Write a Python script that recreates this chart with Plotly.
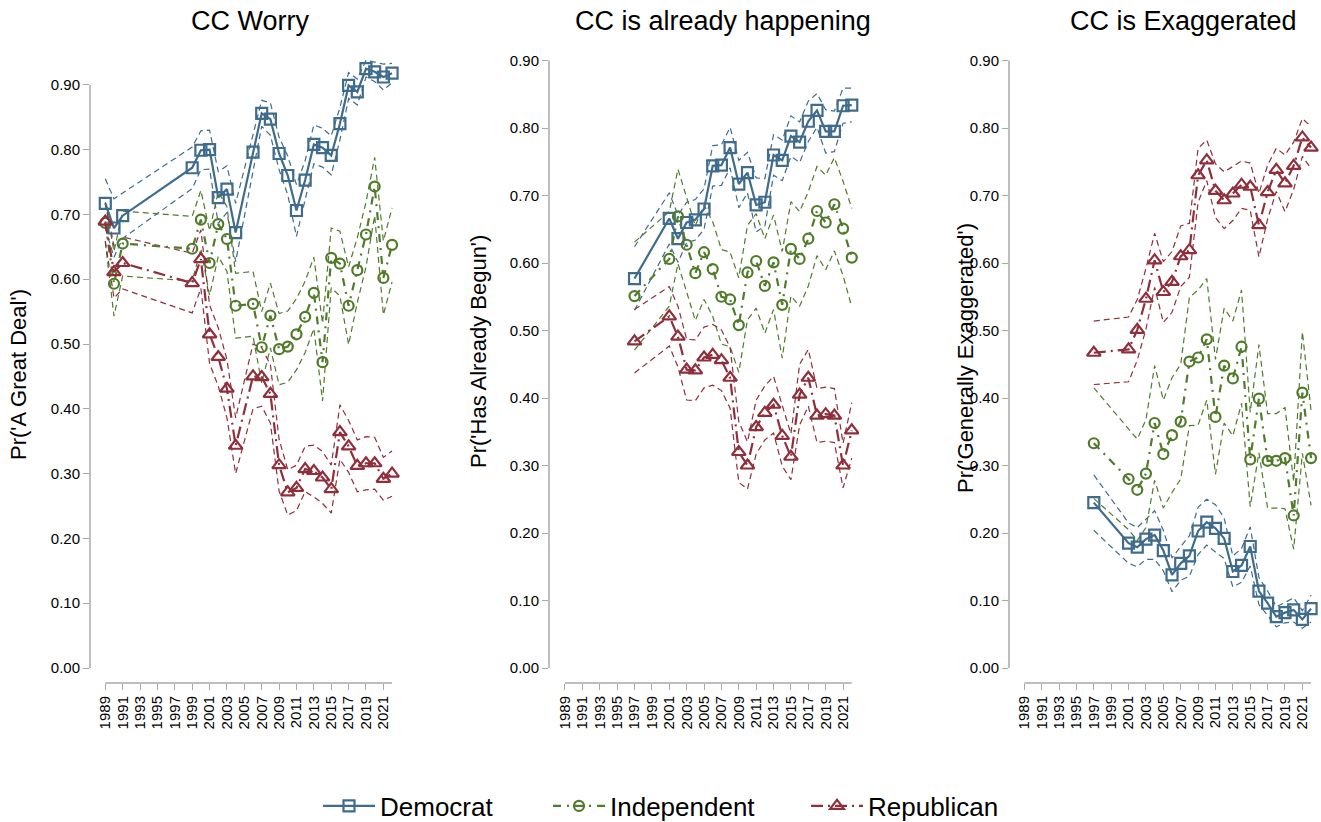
import plotly.graph_objects as go

# ---------------- data ----------------
years_worry = [1989, 1990, 1991, 1999, 2000, 2001, 2002, 2003, 2004, 2006, 2007, 2008, 2009,
               2010, 2011, 2012, 2013, 2014, 2015, 2016, 2017, 2018, 2019, 2020, 2021, 2022]
years_other = [1997, 2001, 2002, 2003, 2004, 2005, 2006, 2007, 2008, 2009, 2010, 2011, 2012,
               2013, 2014, 2015, 2016, 2017, 2018, 2019, 2020, 2021, 2022]

# Panel 1: CC Worry
worry_dem = [0.717, 0.679, 0.698, 0.772, 0.799, 0.800, 0.726, 0.739, 0.672, 0.796, 0.856, 0.847, 0.794,
             0.760, 0.706, 0.753, 0.808, 0.803, 0.791, 0.840, 0.899, 0.889, 0.925, 0.920, 0.912, 0.918]
worry_dem_hw = [0.038, 0.045, 0.035, 0.032, 0.030, 0.030, 0.040, 0.036, 0.045, 0.030, 0.020, 0.025, 0.025,
                0.030, 0.040, 0.030, 0.030, 0.030, 0.030, 0.025, 0.020, 0.020, 0.013, 0.015, 0.020, 0.015]
worry_ind = [0.687, 0.593, 0.655, 0.647, 0.692, 0.625, 0.685, 0.662, 0.559, 0.562, 0.495, 0.544, 0.492,
             0.496, 0.515, 0.542, 0.579, 0.472, 0.633, 0.624, 0.559, 0.614, 0.669, 0.743, 0.602, 0.653]
worry_ind_hw = [0.030, 0.050, 0.050, 0.050, 0.045, 0.050, 0.050, 0.050, 0.050, 0.050, 0.055, 0.050, 0.055,
                0.055, 0.055, 0.055, 0.055, 0.060, 0.046, 0.050, 0.060, 0.050, 0.050, 0.045, 0.057, 0.057]
worry_rep = [0.689, 0.611, 0.625, 0.594, 0.631, 0.515, 0.480, 0.431, 0.343, 0.450, 0.449, 0.423, 0.313,
             0.271, 0.278, 0.307, 0.304, 0.294, 0.276, 0.364, 0.342, 0.312, 0.316, 0.316, 0.292, 0.300]
worry_rep_hw = [0.030, 0.040, 0.040, 0.046, 0.045, 0.045, 0.045, 0.045, 0.043, 0.050, 0.045, 0.045, 0.040,
                0.035, 0.035, 0.035, 0.040, 0.040, 0.037, 0.042, 0.040, 0.040, 0.041, 0.040, 0.033, 0.035]

# Panel 2: CC is already happening
begun_dem = [0.577, 0.666, 0.636, 0.660, 0.664, 0.680, 0.744, 0.745, 0.771, 0.717, 0.734, 0.686, 0.690,
             0.760, 0.752, 0.788, 0.779, 0.810, 0.826, 0.795, 0.795, 0.833, 0.834]
begun_dem_hw = [0.047, 0.038, 0.035, 0.030, 0.030, 0.030, 0.030, 0.030, 0.030, 0.035, 0.030, 0.040, 0.035,
                0.030, 0.030, 0.030, 0.030, 0.030, 0.025, 0.032, 0.030, 0.026, 0.025]
begun_ind = [0.551, 0.606, 0.669, 0.627, 0.585, 0.616, 0.591, 0.550, 0.546, 0.508, 0.586, 0.603, 0.566,
             0.601, 0.538, 0.621, 0.606, 0.636, 0.677, 0.660, 0.687, 0.651, 0.608]
begun_ind_hw = [0.080, 0.070, 0.070, 0.070, 0.070, 0.070, 0.070, 0.070, 0.070, 0.070, 0.070, 0.070, 0.070,
                0.070, 0.079, 0.070, 0.070, 0.070, 0.066, 0.070, 0.069, 0.070, 0.073]
begun_rep = [0.484, 0.521, 0.491, 0.442, 0.441, 0.460, 0.464, 0.456, 0.430, 0.320, 0.300, 0.357, 0.378,
             0.390, 0.344, 0.313, 0.405, 0.430, 0.374, 0.376, 0.374, 0.300, 0.352]
begun_rep_hw = [0.047, 0.044, 0.045, 0.045, 0.045, 0.045, 0.045, 0.045, 0.045, 0.045, 0.035, 0.040, 0.040,
                0.042, 0.045, 0.034, 0.045, 0.042, 0.040, 0.040, 0.040, 0.033, 0.041]

# Panel 3: CC is Exaggerated
exag_dem = [0.245, 0.185, 0.179, 0.191, 0.197, 0.174, 0.138, 0.155, 0.166, 0.203, 0.216, 0.207, 0.192,
            0.143, 0.152, 0.180, 0.114, 0.096, 0.076, 0.082, 0.086, 0.072, 0.088]
exag_dem_hw = [0.041, 0.030, 0.029, 0.030, 0.036, 0.030, 0.025, 0.025, 0.030, 0.035, 0.034, 0.035, 0.030,
               0.023, 0.025, 0.029, 0.020, 0.018, 0.015, 0.015, 0.018, 0.013, 0.020]
exag_ind = [0.333, 0.280, 0.264, 0.288, 0.363, 0.317, 0.345, 0.365, 0.454, 0.460, 0.487, 0.372, 0.448,
            0.429, 0.476, 0.309, 0.399, 0.307, 0.307, 0.311, 0.226, 0.408, 0.311]
exag_ind_hw = [0.082, 0.075, 0.075, 0.080, 0.085, 0.080, 0.085, 0.085, 0.095, 0.100, 0.090, 0.085, 0.085,
               0.085, 0.084, 0.070, 0.080, 0.070, 0.070, 0.075, 0.050, 0.090, 0.070]
exag_rep = [0.467, 0.472, 0.501, 0.547, 0.604, 0.557, 0.572, 0.610, 0.619, 0.730, 0.752, 0.707, 0.693,
            0.703, 0.716, 0.713, 0.656, 0.705, 0.738, 0.718, 0.744, 0.786, 0.771]
exag_rep_hw = [0.047, 0.048, 0.045, 0.045, 0.040, 0.045, 0.045, 0.045, 0.040, 0.040, 0.030, 0.040, 0.042,
               0.040, 0.035, 0.035, 0.047, 0.040, 0.032, 0.042, 0.035, 0.028, 0.031]

titles = ["CC Worry", "CC is already happening", "CC is Exaggerated"]
ytitles = ["Pr('A Great Deal')", "Pr('Has Already Begun')", "Pr('Generally Exaggerated')"]
parties = ["Democrat", "Independent", "Republican"]
x_ticks = list(range(1989, 2022, 2))
y_ticks = [0.0, 0.1, 0.2, 0.3, 0.4, 0.5, 0.6, 0.7, 0.8, 0.9]

panels = [
    (years_worry, [(worry_dem, worry_dem_hw), (worry_ind, worry_ind_hw), (worry_rep, worry_rep_hw)]),
    (years_other, [(begun_dem, begun_dem_hw), (begun_ind, begun_ind_hw), (begun_rep, begun_rep_hw)]),
    (years_other, [(exag_dem, exag_dem_hw), (exag_ind, exag_ind_hw), (exag_rep, exag_rep_hw)]),
]

# ---------------- styles ----------------
W, H = 1321, 822
FONT = "Liberation Sans, Arial, Helvetica, sans-serif"
colors = ["#3F6B8C", "#507B2B", "#8E2F3B"]
symbols = ["square-open", "circle-open", "triangle-up-open"]
msizes = [11, 10, 12]
main_dash = ["solid", "8px,6px,2px,6px", "12px,5px,2px,5px"]
ci_dash = "6px,4px"
AXC = "#A8A8A8"

# pixel geometry of the three plot areas
px_x = [(90, 400), (549, 859), (1009, 1319)]
yr_left = [1987.24, 1987.16, 1987.24]
px_per_year = 8.69
px_top, px_bottom = 55, 683
px_per_unit = [648.0, 675.0, 675.0]
zero_px = 668
legend_x_px = [318, 548, 806]
title_cx = [249.5, 722.5, 1183.5]
ytitle_cx = [18, 478, 965]
ytitle_cy = [375, 352, 358]

fig = go.Figure()

for p, (years, series) in enumerate(panels):
    xa = "x" if p == 0 else f"x{p+1}"
    ya = "y" if p == 0 else f"y{p+1}"
    for s, (est, hw) in enumerate(series):
        lo = [e - h for e, h in zip(est, hw)]
        hi = [e + h for e, h in zip(est, hw)]
        for band in (hi, lo):
            fig.add_trace(go.Scatter(
                x=years, y=band, mode="lines", xaxis=xa, yaxis=ya,
                line=dict(color=colors[s], width=1.2, dash=ci_dash),
                showlegend=False, hoverinfo="skip"))
    for s, (est, hw) in enumerate(series):
        fig.add_trace(go.Scatter(
            x=years, y=est, mode="lines+markers", xaxis=xa, yaxis=ya,
            name=parties[s], legendgroup=parties[s], showlegend=(p == 0),
            legend="legend" if s == 0 else f"legend{s+1}",
            line=dict(color=colors[s], width=2.2, dash=main_dash[s]),
            marker=dict(symbol=symbols[s], size=msizes[s], color=colors[s],
                        line=dict(color=colors[s], width=2.2))))

layout = dict(
    width=W, height=H, margin=dict(l=0, r=0, t=0, b=0, autoexpand=False),
    paper_bgcolor="white", plot_bgcolor="white",
    font=dict(family=FONT, color="black", size=15),
    showlegend=True,
)
for s in range(3):
    lk = "legend" if s == 0 else f"legend{s+1}"
    layout[lk] = dict(orientation="h", x=legend_x_px[s] / W, xanchor="left",
                      y=(H - 806) / H, yanchor="middle",
                      font=dict(size=26, family=FONT, color="black"), itemwidth=52,
                      bgcolor="rgba(0,0,0,0)", borderwidth=0)

annotations = []
shapes = []
for p in range(3):
    xk = "xaxis" if p == 0 else f"xaxis{p+1}"
    yk = "yaxis" if p == 0 else f"yaxis{p+1}"
    xa = "x" if p == 0 else f"x{p+1}"
    ya = "y" if p == 0 else f"y{p+1}"
    l, r = px_x[p]
    x0 = yr_left[p]
    x1 = x0 + (r - l) / px_per_year
    ppu = px_per_unit[p]
    y_lo = -(px_bottom - zero_px) / ppu
    y_hi = (zero_px - px_top) / ppu
    layout[xk] = dict(domain=[l / W, r / W], range=[x0, x1], anchor=ya,
                      tickmode="array", tickvals=x_ticks, ticktext=[str(t) for t in x_ticks],
                      tickangle=-90, ticks="outside", ticklen=6, tickcolor=AXC, tickwidth=1.3,
                      showgrid=False, zeroline=False, showline=False,
                      tickfont=dict(size=15, family=FONT, color="black"))
    layout[yk] = dict(domain=[(H - px_bottom) / H, (H - px_top) / H], range=[y_lo, y_hi], anchor=xa,
                      tickmode="array", tickvals=y_ticks, ticktext=[f"{v:.2f}" for v in y_ticks],
                      ticks="outside", ticklen=6, tickcolor=AXC, tickwidth=1.3,
                      showgrid=False, zeroline=False, showline=False,
                      tickfont=dict(size=15, family=FONT, color="black"))
    shapes.append(dict(type="line", xref=f"{xa} domain", yref=ya, x0=0, x1=0, y0=0, y1=0.9,
                       line=dict(color=AXC, width=1.5)))
    shapes.append(dict(type="line", xref=xa, yref=f"{ya} domain", x0=1989, x1=2022, y0=0, y1=0,
                       line=dict(color=AXC, width=1.5)))
    annotations.append(dict(text=titles[p], xref="paper", yref="paper",
                            x=title_cx[p] / W, y=(H - 21) / H, xanchor="center", yanchor="middle",
                            showarrow=False, font=dict(size=27, family=FONT, color="black")))
    annotations.append(dict(text=ytitles[p], xref="paper", yref="paper",
                            x=ytitle_cx[p] / W, y=(H - ytitle_cy[p]) / H, xanchor="center",
                            yanchor="middle", textangle=-90, showarrow=False,
                            font=dict(size=22, family=FONT, color="black")))

layout["annotations"] = annotations
layout["shapes"] = shapes
fig.update_layout(**layout)

fig.write_html("out.html", config={"displayModeBar": False},
               post_script="document.body.style.margin='0px';document.body.style.overflow='hidden';")
